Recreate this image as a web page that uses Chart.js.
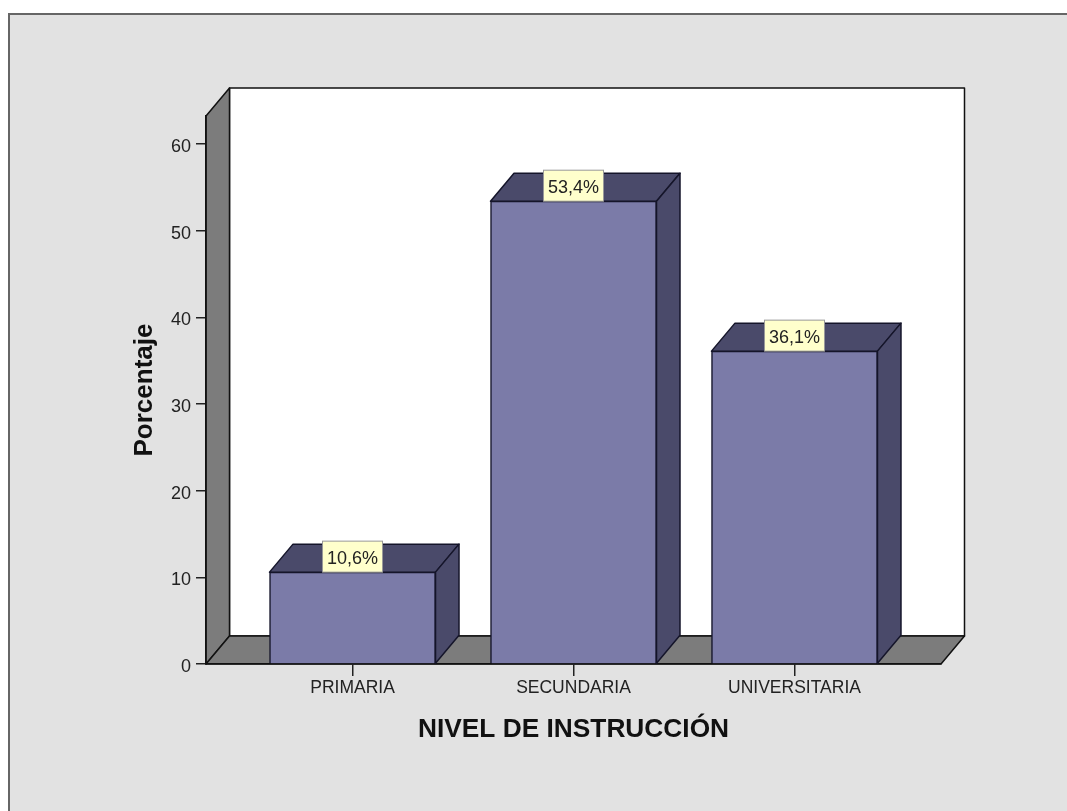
<!DOCTYPE html>
<html>
<head>
<meta charset="utf-8">
<title>Nivel de instrucción</title>
<script src="https://cdn.jsdelivr.net/npm/chart.js@4"></script>
<style>
  html, body { margin: 0; padding: 0; background: #fff; }
  canvas { display: block; }
</style>
</head>
<body>
<canvas id="grafico" width="1067" height="811"></canvas>
<script>
// Datos
const categorias = ['PRIMARIA', 'SECUNDARIA', 'UNIVERSITARIA'];
const porcentajes = [10.6, 53.4, 36.1];
const etiquetas = ['10,6%', '53,4%', '36,1%'];
const posiciones = [0, 1, 2];
const marcasY = [0, 10, 20, 30, 40, 50, 60];

// Profundidad del efecto 3D
const DX = 23.5;
const DY = 28;
const FUENTE = '"Liberation Sans", Arial, sans-serif';

function poligono(ctx, puntos, relleno) {
    ctx.beginPath();
    puntos.forEach((p, i) => i ? ctx.lineTo(p[0], p[1]) : ctx.moveTo(p[0], p[1]));
    ctx.closePath();
    ctx.fillStyle = relleno;
    ctx.fill();
    ctx.stroke();
}

// Fondo gris, pared del fondo, pared izquierda y suelo
const paredes = {
    id: 'paredes',
    beforeDraw(chart) {
        const { ctx, chartArea: a } = chart;
        ctx.save();
        ctx.fillStyle = '#e2e2e2';
        ctx.fillRect(8, 13, 1059, 798);
        ctx.strokeStyle = '#666';
        ctx.lineWidth = 2;
        ctx.beginPath();
        ctx.moveTo(9, 811);
        ctx.lineTo(9, 14);
        ctx.lineTo(1067, 14);
        ctx.stroke();

        ctx.strokeStyle = '#111';
        ctx.lineWidth = 1.5;
        ctx.lineJoin = 'round';
        ctx.fillStyle = '#fff';
        ctx.fillRect(a.left + DX, a.top - DY, a.width, a.height);
        ctx.strokeRect(a.left + DX, a.top - DY, a.width, a.height);
        poligono(ctx, [[a.left, a.top], [a.left + DX, a.top - DY], [a.left + DX, a.bottom - DY], [a.left, a.bottom]], '#7c7c7c');
        poligono(ctx, [[a.left, a.bottom], [a.left + DX, a.bottom - DY], [a.right + DX, a.bottom - DY], [a.right, a.bottom]], '#7c7c7c');
        ctx.restore();
    }
};

// Caras superior y lateral de cada barra
const caras = {
    id: 'caras',
    beforeDatasetsDraw(chart) {
        const { ctx } = chart;
        ctx.save();
        ctx.strokeStyle = '#15152a';
        ctx.lineWidth = 1.5;
        ctx.lineJoin = 'round';
        chart.getDatasetMeta(0).data.forEach(bar => {
            const izq = bar.x - bar.width / 2;
            const der = bar.x + bar.width / 2;
            poligono(ctx, [[izq, bar.y], [izq + DX, bar.y - DY], [der + DX, bar.y - DY], [der, bar.y]], '#4a4a6a');
            poligono(ctx, [[der, bar.y], [der + DX, bar.y - DY], [der + DX, bar.base - DY], [der, bar.base]], '#4a4a6a');
        });
        ctx.restore();
    },
    // Etiquetas amarillas sobre la cara superior
    afterDatasetsDraw(chart) {
        const { ctx } = chart;
        ctx.save();
        ctx.font = '18px ' + FUENTE;
        ctx.textAlign = 'center';
        ctx.textBaseline = 'middle';
        chart.getDatasetMeta(0).data.forEach((bar, i) => {
            ctx.fillStyle = '#ffffcc';
            ctx.strokeStyle = '#999';
            ctx.lineWidth = 1;
            ctx.fillRect(bar.x - 30, bar.y - 31, 60, 31);
            ctx.strokeRect(bar.x - 30, bar.y - 31, 60, 31);
            ctx.fillStyle = '#222';
            ctx.fillText(etiquetas[i], bar.x, bar.y - 13);
        });
        ctx.restore();
    }
};

new Chart(document.getElementById('grafico'), {
    type: 'bar',
    data: {
        datasets: [{
            data: posiciones.map((x, i) => ({ x: x, y: porcentajes[i] })),
            backgroundColor: '#7b7ba8',
            borderColor: '#15152a',
            borderWidth: 1.5,
            barThickness: 166
        }]
    },
    options: {
        responsive: false,
        animation: false,
        layout: { padding: { top: 116, right: 126, left: 0, bottom: 0 } },
        plugins: { legend: { display: false }, tooltip: { enabled: false } },
        scales: {
            x: {
                type: 'linear',
                offset: false,
                min: -0.663,
                max: 2.663,
                afterFit: s => { s.height = 147; },
                afterBuildTicks: s => { s.ticks = posiciones.map(v => ({ value: v })); },
                grid: { offset: false, drawOnChartArea: false, color: '#222', tickLength: 12, lineWidth: 1.5 },
                border: { color: '#111', width: 1.5 },
                ticks: {
                    autoSkip: false,
                    maxRotation: 0,
                    padding: 2,
                    color: '#222',
                    font: { family: FUENTE, size: 17.5 },
                    callback: v => categorias[v]
                },
                title: {
                    display: true,
                    text: 'NIVEL DE INSTRUCCIÓN',
                    color: '#111',
                    font: { family: FUENTE, size: 26.3, weight: 'bold' },
                    padding: { top: 0, bottom: 65 }
                }
            },
            y: {
                min: 0,
                max: 63.23,
                afterFit: s => { s.width = 206; },
                afterBuildTicks: s => { s.ticks = marcasY.map(v => ({ value: v })); },
                grid: { drawOnChartArea: false, color: '#222', tickLength: 10, lineWidth: 1.5 },
                border: { color: '#111', width: 1.5 },
                ticks: {
                    padding: 5,
                    labelOffset: 3,
                    color: '#222',
                    font: { family: FUENTE, size: 18 }
                },
                title: {
                    display: true,
                    text: 'Porcentaje',
                    color: '#111',
                    font: { family: FUENTE, size: 26, weight: 'bold' },
                    padding: { top: 129, bottom: 0 }
                }
            }
        }
    },
    plugins: [paredes, caras]
});
</script>
</body>
</html>
